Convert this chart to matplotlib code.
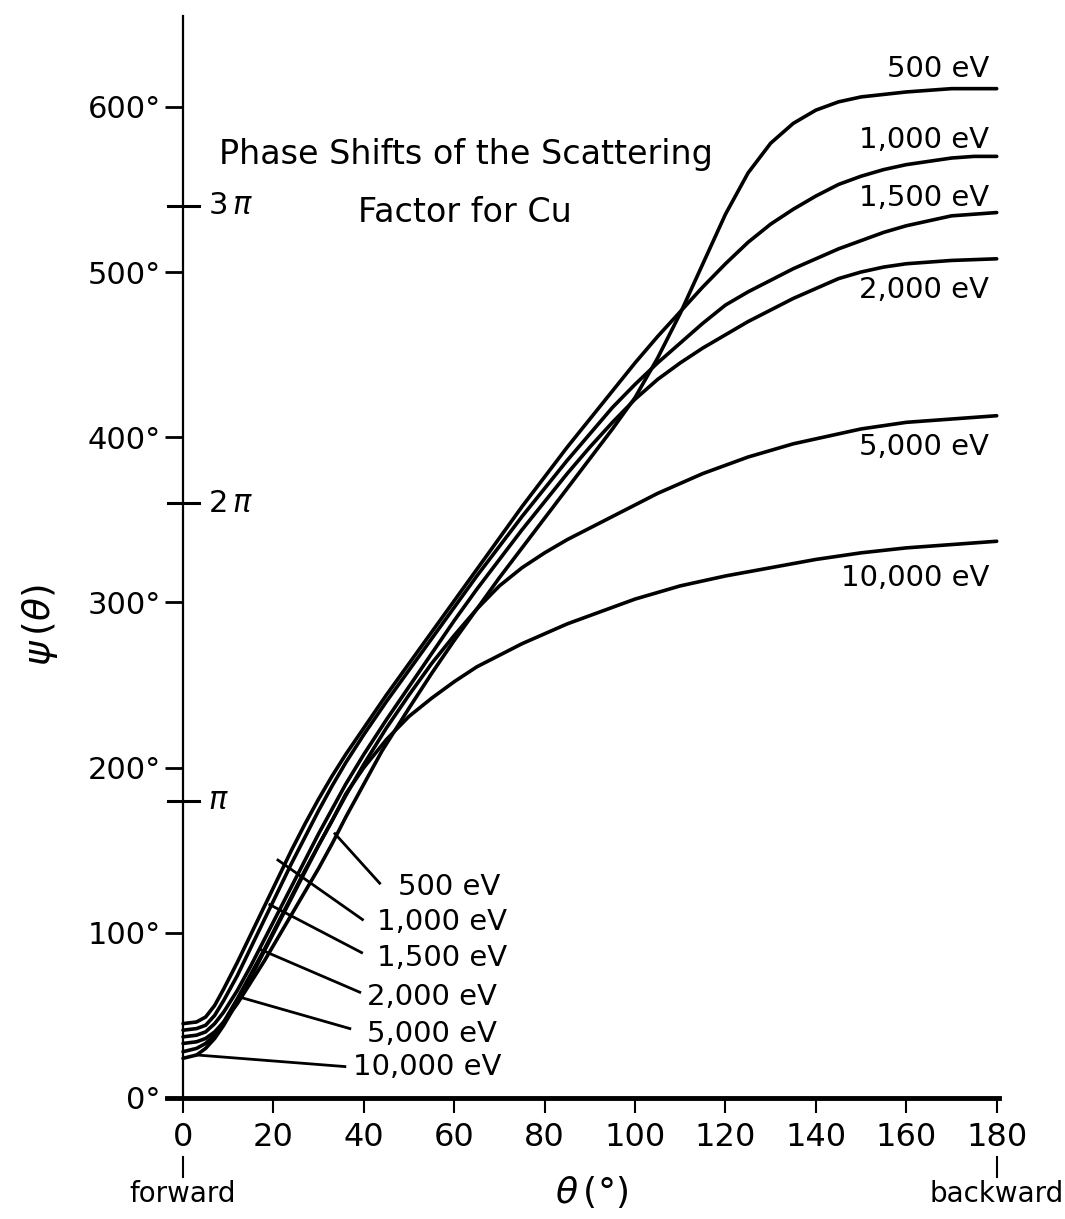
import numpy as np
import matplotlib.pyplot as plt

# curves: theta (deg) and psi (deg)
energies = ['500 eV', '1,000 eV', '1,500 eV', '2,000 eV', '5,000 eV', '10,000 eV']

theta_500 = [0, 3, 5, 7, 9, 12, 15, 18, 21, 24, 27, 30, 33, 36, 40, 44, 50, 55, 60, 65, 70,
             75, 80, 85, 90, 95, 100, 105, 110, 115, 120, 125, 130, 135, 140, 145, 150,
             160, 170, 180]
psi_500 = [33, 34, 36, 40, 46, 57, 70, 83, 97, 111, 125, 139, 154, 170, 190, 210, 236, 257,
           277, 296, 315, 333, 351, 369, 387, 405, 424, 448, 475, 505, 535, 560, 578, 590,
           598, 603, 606, 609, 611, 611]

theta_1000 = [0, 3, 5, 7, 9, 12, 15, 18, 21, 24, 27, 30, 33, 36, 40, 45, 50, 55, 60, 65, 70,
              75, 80, 85, 90, 95, 100, 105, 110, 115, 120, 125, 130, 135, 140, 145, 150,
              155, 160, 165, 170, 175, 180]
psi_1000 = [45, 46, 49, 56, 66, 82, 99, 116, 133, 150, 166, 181, 195, 208, 224, 244, 263,
            282, 301, 320, 339, 358, 376, 394, 411, 428, 445, 461, 476, 491, 505, 518, 529,
            538, 546, 553, 558, 562, 565, 567, 569, 570, 570]

theta_1500 = [0, 3, 5, 7, 9, 12, 15, 18, 21, 24, 27, 30, 33, 36, 40, 45, 50, 55, 60, 65, 70,
              75, 80, 85, 90, 95, 100, 105, 110, 115, 120, 125, 130, 135, 140, 145, 150,
              155, 160, 165, 170, 175, 180]
psi_1500 = [41, 42, 44, 50, 59, 74, 91, 108, 125, 142, 158, 174, 189, 203, 220, 240, 259,
            278, 297, 316, 334, 352, 369, 386, 402, 418, 432, 445, 457, 469, 480, 488, 495,
            502, 508, 514, 519, 524, 528, 531, 534, 535, 536]

theta_2000 = [0, 3, 5, 7, 9, 12, 15, 18, 21, 24, 27, 30, 33, 36, 40, 45, 50, 55, 60, 65, 70,
              75, 80, 85, 90, 95, 100, 105, 110, 115, 120, 125, 130, 135, 140, 145, 150,
              155, 160, 170, 180]
psi_2000 = [37, 38, 40, 45, 52, 65, 80, 96, 112, 128, 144, 160, 175, 190, 208, 229, 249,
            269, 289, 308, 326, 344, 361, 378, 394, 409, 423, 435, 445, 454, 462, 470, 477,
            484, 490, 496, 500, 503, 505, 507, 508]

theta_5000 = [0, 3, 5, 7, 9, 12, 15, 18, 21, 24, 27, 30, 33, 36, 40, 45, 50, 55, 60, 65, 70,
              75, 80, 85, 90, 95, 100, 105, 110, 115, 120, 125, 130, 135, 140, 145, 150,
              160, 170, 180]
psi_5000 = [28, 30, 33, 38, 46, 60, 75, 90, 106, 122, 138, 153, 168, 183, 202, 224, 244,
            263, 280, 296, 310, 321, 330, 338, 345, 352, 359, 366, 372, 378, 383, 388, 392,
            396, 399, 402, 405, 409, 411, 413]

theta_10000 = [0, 3, 5, 7, 9, 12, 15, 18, 21, 24, 27, 30, 33, 36, 40, 45, 50, 55, 60, 65,
               70, 75, 80, 85, 90, 95, 100, 110, 120, 130, 140, 150, 160, 170, 180]
psi_10000 = [24, 26, 30, 36, 44, 58, 73, 89, 105, 121, 137, 153, 168, 184, 200, 217, 231,
             242, 252, 261, 268, 275, 281, 287, 292, 297, 302, 310, 316, 321, 326, 330, 333,
             335, 337]

thetas = [theta_500, theta_1000, theta_1500, theta_2000, theta_5000, theta_10000]
psis = [psi_500, psi_1000, psi_1500, psi_2000, psi_5000, psi_10000]

psi_ticks = [0, 100, 200, 300, 400, 500, 600]
pi_ticks = [180, 360, 540]
pi_labels = [r'$\pi$', r'$2\,\pi$', r'$3\,\pi$']
theta_ticks = [0, 20, 40, 60, 80, 100, 120, 140, 160, 180]

fig = plt.figure(figsize=(10.65, 12.19), dpi=100)
ax = fig.add_axes([0.157, 0.0993, 0.781, 0.8876])
ax.set_xlim(-3.5, 180.5)
ax.set_ylim(0, 655)

for th, ps in zip(thetas, psis):
    ax.plot(th, ps, color='black', lw=2.6, solid_capstyle='round',
            solid_joinstyle='round', clip_on=False)

# spines
for s in ['top', 'right']:
    ax.spines[s].set_visible(False)
ax.spines['left'].set_position(('data', 0))
ax.spines['left'].set_linewidth(1.6)
ax.spines['bottom'].set_linewidth(3.5)

ax.set_yticks(psi_ticks)
ax.set_yticklabels([f'{v}°' for v in psi_ticks])
ax.tick_params(axis='y', direction='out', length=13, width=2, labelsize=22, pad=3)
ax.set_xticks(theta_ticks)
ax.set_xticklabels([str(v) for v in theta_ticks])
ax.tick_params(axis='x', direction='out', length=11, width=1.5, labelsize=23, pad=6)

# pi marks crossing the axis
for v, lab in zip(pi_ticks, pi_labels):
    ax.plot([-3.3, 3.6], [v, v], color='black', lw=2.2, clip_on=False)
    ax.text(5.5, v, lab, fontsize=22, va='center', ha='left')

# labels at the right end
right_y = [623, 580, 545, 489, 394, 315]
for lab, y in zip(energies, right_y):
    ax.text(178.3, y, lab, fontsize=21, ha='right', va='center')

# labels with leader lines near the origin
left_text = [(47.5, 128), (42.8, 106.5), (42.8, 85), (40.8, 61), (40.8, 39), (37.5, 19)]
left_from = [(43.5, 130), (39.7, 108), (39.5, 88), (39.1, 64), (36.9, 42), (35.8, 19)]
left_to = [(33.6, 160), (21, 144), (19.2, 117), (17, 90), (12.6, 61), (3.1, 26)]
for lab, (tx, ty), (fx, fy), (px, py) in zip(energies, left_text, left_from, left_to):
    ax.plot([fx, px], [fy, py], color='black', lw=2.0)
    ax.text(tx, ty, lab, fontsize=21, ha='left', va='center')

ax.text(62.5, 571, 'Phase Shifts of the Scattering', fontsize=24, ha='center', va='center')
ax.text(62.3, 536, 'Factor for Cu', fontsize=24, ha='center', va='center')

# forward / backward marks
for x, lab in [(0, 'forward'), (180, 'backward')]:
    ax.plot([x, x], [-36, -48], color='black', lw=1.5, clip_on=False)
    ax.text(x, -58, lab, fontsize=20, ha='center', va='center')

ax.text(90.3, -57, r'$\theta\,$(°)', fontsize=26, ha='center', va='center')
ax.text(-31.6, 286, r'$\psi\,(\theta)$', fontsize=27, ha='center', va='center', rotation=90)

fig.savefig('out.png', dpi=100)
